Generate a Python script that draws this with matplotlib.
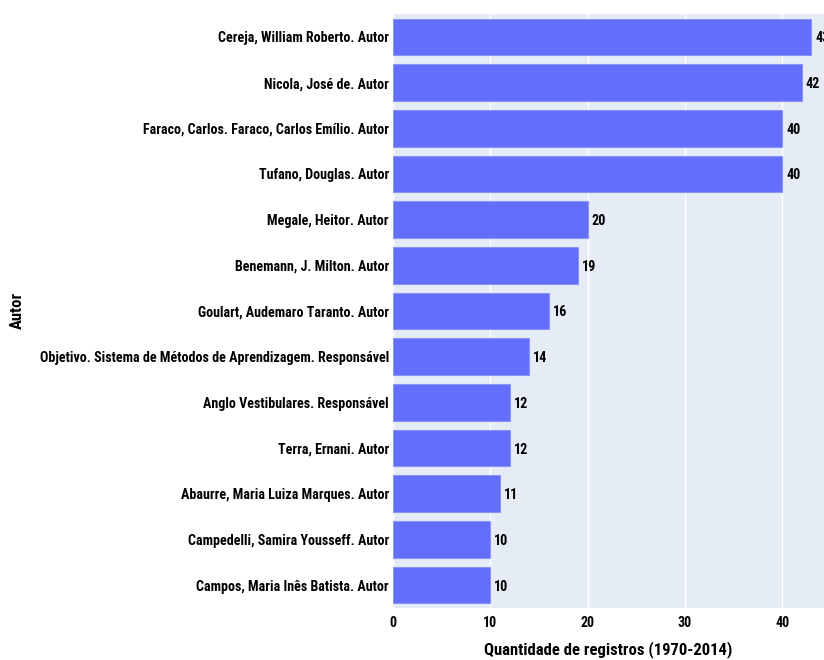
import matplotlib
matplotlib.use("Agg")
import matplotlib.pyplot as plt
from matplotlib import font_manager as fm

# Data
autores = [
    "Cereja, William Roberto. Autor",
    "Nicola, José de. Autor",
    "Faraco, Carlos. Faraco, Carlos Emílio. Autor",
    "Tufano, Douglas. Autor",
    "Megale, Heitor. Autor",
    "Benemann, J. Milton. Autor",
    "Goulart, Audemaro Taranto. Autor",
    "Objetivo. Sistema de Métodos de Aprendizagem. Responsável",
    "Anglo Vestibulares. Responsável",
    "Terra, Ernani. Autor",
    "Abaurre, Maria Luiza Marques. Autor",
    "Campedelli, Samira Yousseff. Autor",
    "Campos, Maria Inês Batista. Autor",
]
registros = [43, 42, 40, 40, 20, 19, 16, 14, 12, 12, 11, 10, 10]
xticks = [0, 10, 20, 30, 40]

# Pick a condensed bold font if one is installed
fname = None
prefs = ["OpenSansCondensed-Bold", "OpenSans_Condensed-Bold", "RobotoCondensed-Bold",
         "DejaVuSansCondensed-Bold"]
files = fm.findSystemFonts()
for p in prefs:
    hits = [f for f in files if p.lower() in f.lower().replace(" ", "")]
    if hits:
        fname = hits[0]
        break
if fname:
    def fp(size):
        return fm.FontProperties(fname=fname, size=size)
else:
    def fp(size):
        return fm.FontProperties(family="Open Sans", weight="bold", size=size)

fig = plt.figure(figsize=(8.24, 6.6), dpi=100)
ax = fig.add_axes([393 / 824, 52 / 660, 431 / 824, 594 / 660])
ax.set_facecolor("#E5ECF6")

y = list(range(len(autores)))
ax.barh(y, registros, height=0.8, color="#636EFA", edgecolor="#8A93FB", linewidth=0.8, zorder=3)
for yi, v in zip(y, registros):
    ax.text(v + 0.4, yi, str(v), va="center_baseline", ha="left", fontproperties=fp(10.2),
            color="black", clip_on=False, zorder=4)

ax.set_ylim(len(autores) - 0.5, -0.5)
ax.set_xlim(0, 44.3)
ax.set_xticks(xticks)
ax.set_yticks(y)
ax.set_yticklabels(autores)
for lab in ax.get_yticklabels() + ax.get_xticklabels():
    lab.set_fontproperties(fp(10.1))
ax.grid(axis="x", color="white", linewidth=1, zorder=0)
ax.tick_params(length=0, pad=3)
ax.tick_params(axis="x", pad=6)
for s in ax.spines.values():
    s.set_visible(False)

ax.set_xlabel("Quantidade de registros (1970-2014)", fontproperties=fp(12), labelpad=8)
fig.text(17 / 824, 1 - 310 / 660, "Autor", rotation=90, va="center", ha="center",
         fontproperties=fp(12))

fig.savefig("out.png", dpi=100)
